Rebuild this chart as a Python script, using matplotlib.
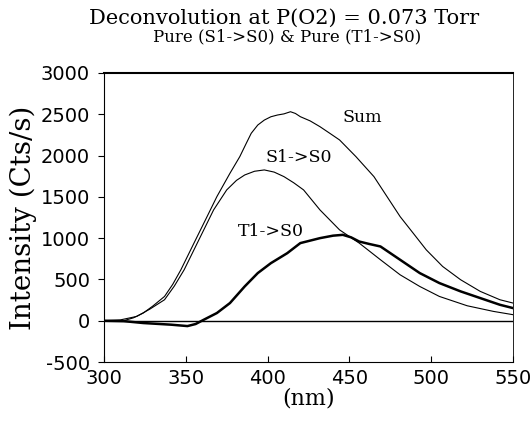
import matplotlib.pyplot as plt

plt.rcParams['axes.unicode_minus'] = False

# wavelength (nm) and intensities (Cts/s)
x_sum = [300, 312, 318, 324, 330, 337, 342, 347, 355, 363, 369, 377, 383, 387, 390, 394,
         398, 402, 406, 410, 414, 417, 420, 426, 432, 438, 444, 454, 465, 473, 481,
         489, 497, 507, 518, 530, 542, 550]
y_sum = [0, 0, 35, 93, 180, 294, 440, 617, 940, 1261, 1503, 1786, 1987, 2150, 2270, 2370,
         2430, 2470, 2491, 2505, 2531, 2510, 2471, 2420, 2350, 2270, 2189, 1987, 1745,
         1503, 1261, 1060, 858, 657, 496, 355, 254, 214]

x_s1 = [300, 310, 320, 328, 337, 343, 349, 359, 367, 375, 381, 386, 392, 398, 404,
        410, 416, 422, 432, 444, 456, 469, 481, 493, 505, 522, 538, 550]
y_s1 = [0, 10, 52, 140, 254, 420, 617, 1020, 1342, 1584, 1700, 1765, 1810, 1826, 1800,
        1745, 1670, 1584, 1342, 1100, 940, 738, 556, 415, 294, 181, 113, 73]

x_t1 = [300, 312, 324, 341, 351, 356, 361, 369, 377, 386, 394, 402, 412, 420, 432,
        440, 446, 451, 456, 462, 469, 481, 493, 505, 518, 530, 542, 550]
y_t1 = [0, -5, -28, -48, -65, -40, 12, 93, 214, 415, 577, 697, 818, 940, 1000,
        1030, 1040, 1010, 959, 930, 899, 738, 577, 456, 355, 274, 193, 153]

labels = ['Sum', 'S1->S0', 'T1->S0']
label_pos = [(458, 2460), (419, 1977), (402, 1080)]

fig = plt.figure(figsize=(5.32, 4.26), dpi=100)
ax = fig.add_axes([104/532, 1-362/426, 409/532, 289/426])

ax.plot(x_sum, y_sum, color='black', lw=0.8)
ax.plot(x_s1, y_s1, color='black', lw=0.8)
ax.plot(x_t1, y_t1, color='black', lw=1.8)
ax.axhline(0, color='black', lw=1.0)

for lab, (lx, ly) in zip(labels, label_pos):
    ax.text(lx, ly, lab, family='DejaVu Serif', fontsize=12.5, ha='center', va='center')

ax.set_xlim(300, 550)
ax.set_ylim(-500, 3000)
ax.set_xticks([300, 350, 400, 450, 500, 550])
ax.set_yticks([-500, 0, 500, 1000, 1500, 2000, 2500, 3000])
ax.tick_params(axis='y', direction='out', length=4, labelsize=14, pad=6)
ax.tick_params(axis='x', direction='in', length=4, labelsize=14, pad=5)
for lab in ax.get_xticklabels() + ax.get_yticklabels():
    lab.set_family('DejaVu Sans')
ax.spines['top'].set_linewidth(1.5)
ax.spines['right'].set_linewidth(0.6)

ax.set_ylabel('Intensity (Cts/s)', family='DejaVu Serif', fontsize=20, labelpad=3)
ax.set_xlabel('(nm)', family='DejaVu Serif', fontsize=16, labelpad=0)

fig.text(0.534, 0.958, 'Deconvolution at P(O2) = 0.073 Torr', family='DejaVu Serif',
         fontsize=15, ha='center', va='center')
fig.text(0.54, 0.913, 'Pure (S1->S0) & Pure (T1->S0)', family='DejaVu Serif',
         fontsize=12, ha='center', va='center')

fig.savefig('out.png', dpi=100)
